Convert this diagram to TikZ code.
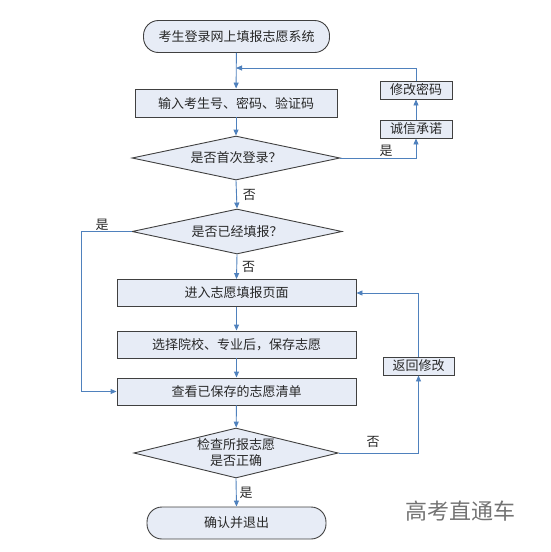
\documentclass[tikz,border=0pt]{standalone}
\usepackage{fontspec}
\setmainfont{Noto Sans CJK SC}
\usetikzlibrary{shapes.geometric,arrows.meta}
\definecolor{boxfill}{RGB}{231,236,246}
\definecolor{boxline}{RGB}{64,64,64}
\definecolor{txt}{RGB}{40,40,40}
\definecolor{conn}{RGB}{79,129,189}
\tikzset{
  base/.style={draw=boxline, fill=boxfill, line width=0.9pt, text=txt, inner sep=0pt, font=\fontsize{13}{15}\selectfont},
  term/.style={base, rectangle, rounded corners=15pt},
  proc/.style={base, rectangle},
  dec/.style={base, diamond, aspect=4.5},
  conn/.style={draw=conn, line width=0.9pt, -{Triangle[length=6pt,width=5pt]}},
  line/.style={draw=conn, line width=0.9pt},
  lbl/.style={text=txt, font=\fontsize{13}{15}\selectfont, inner sep=0pt},
}
\begin{document}
\begin{tikzpicture}[x=1pt,y=-1pt]
\useasboundingbox (0,0) rectangle (550,552);
\node[term, minimum width=186pt, minimum height=32pt] (start) at (236.5,36.5) {考生登录网上填报志愿系统};
\node[proc, minimum width=202pt, minimum height=28pt] (input) at (236,103) {输入考生号、密码、验证码};
\node[dec, minimum width=208pt, minimum height=44pt] (d1) at (236,158) {是否首次登录？};
\node[proc, minimum width=72pt, minimum height=18pt] (chengxin) at (416,129) {诚信承诺};
\node[proc, minimum width=72pt, minimum height=18pt] (xiugai) at (416,90) {修改密码};
\node[dec, minimum width=210pt, minimum height=45pt] (d2) at (237,231.5) {是否已经填报？};
\node[proc, minimum width=239pt, minimum height=27pt] (enter) at (236.5,293) {进入志愿填报页面};
\node[proc, minimum width=239pt, minimum height=27pt] (choose) at (236.5,344.5) {选择院校、专业后，保存志愿};
\node[proc, minimum width=239pt, minimum height=27pt] (view) at (236.5,391.5) {查看已保存的志愿清单};
\node[proc, minimum width=71pt, minimum height=18pt] (back) at (418.5,366) {返回修改};
\node[dec, minimum width=186pt, minimum height=50pt, align=center, font=\fontsize{13}{16}\selectfont] (d3) at (236,453) {检查所报志愿\\是否正确};
\node[term, minimum width=179pt, minimum height=32pt] (end) at (236.5,523) {确认并退出};
\node[text=black!55, font=\fontsize{22}{24}\selectfont, inner sep=0pt] (wm) at (460,511) {高考直通车};

\coordinate (fb) at (416,68);
\coordinate (fbin) at (236,68);
\draw[conn] (start) -- (input);
\draw[line] (xiugai.north) -- (fb);
\draw[conn] (fb) -- (fbin);
\draw[conn] (input) -- (d1);
\draw[conn] (d1.east) -| (chengxin.south);
\node[lbl] (y1) at (386,151) {是};
\draw[conn] (chengxin) -- (xiugai);
\draw[conn] (d1.south) -- (d2.north) node[lbl, midway, right=6pt] (n1) {否};
\draw[conn] (d2.south) -- (enter.north) node[lbl, midway, right=5pt] (n2) {否};
\coordinate (lc) at (81,231.5);
\draw[conn] (d2.west) -- (lc) |- (view.west);
\node[lbl] (y2) at (102,225) {是};
\draw[conn] (enter) -- (choose);
\draw[conn] (choose) -- (view);
\draw[conn] (view) -- (d3);
\draw[conn] (d3.east) -| (back.south);
\node[lbl] (n3) at (373,442) {否};
\draw[conn] (back.north) |- (enter.east);
\draw[conn] (d3.south) -- (end.north) node[lbl, midway, right=3pt] (y3) {是};
\end{tikzpicture}
\end{document}
